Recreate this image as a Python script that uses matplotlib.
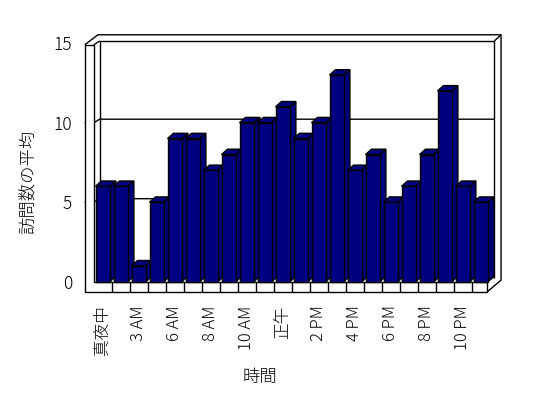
import matplotlib
matplotlib.use("Agg")
import matplotlib.pyplot as plt
from matplotlib.patches import Polygon, Rectangle

plt.rcParams['font.family'] = ['Noto Sans CJK JP', 'DejaVu Sans']

hours = ['真夜中', '2 AM', '3 AM', '5 AM', '6 AM', '7 AM', '8 AM', '9 AM', '10 AM', '11 AM',
         '正午', '1 PM', '2 PM', '3 PM', '4 PM', '5 PM', '6 PM', '7 PM', '8 PM', '9 PM',
         '10 PM', '11 PM']
visits = [6, 6, 1, 5, 9, 9, 7, 8, 10, 10, 11, 9, 10, 13, 7, 8, 5, 6, 8, 12, 6, 5]
yticks = [0, 5, 10, 15]

navy = '#000080'
W = 548.0
H = 398.0

fig = plt.figure(figsize=(W / 100, H / 100), dpi=100)
ax = fig.add_axes([93.7 / W, (H - 281.7) / H, 396 / W, 15 * 15.9 / H])
n = len(visits)
ax.set_xlim(-0.5, n - 0.5)
ax.set_ylim(0, 15)
for s in ax.spines.values():
    s.set_visible(False)

# 3d look offsets (data units)
ddx, ddy = 6 / 18.0, 5.3 / 15.9
gb = 0.22          # back wall shift for gridlines
wl = -1.0          # outer edge of left wall
top_f, top_i, top_o = 14.9, 15.14, 15.53
right_i, right_o = n - 0.5 + 0.26, n - 0.5 + 0.63
floor_r, floor_b = n - 0.5 - 0.13, -0.63

def line(xs, ys, z=1):
    ax.plot(xs, ys, color='black', lw=1, clip_on=False, zorder=z, solid_capstyle='butt')

# back wall
line([-0.5 + ddx, -0.5 + ddx, right_i, right_i], [gb, top_i, top_i, gb])
line([-0.5, -0.5 + ddx], [top_f, top_i])
line([wl, -0.26, right_o, right_o, floor_r], [top_f, top_o, top_o, 0.1, floor_b])
line([right_i, right_o], [top_i, top_o])
line([floor_r, right_i], [0, ddy])

# gridlines on back wall
for v in yticks[1:-1]:
    line([wl, -0.5, -0.5 + ddx, right_i], [v, v, v + gb, v + gb])

# left wall front face and floor front face
ax.add_patch(Polygon([[wl, top_f], [-0.5, top_f], [-0.5, 0], [floor_r, 0],
                      [floor_r, floor_b], [wl, floor_b]], closed=True,
                     fc='white', ec='black', lw=1, clip_on=False, zorder=1))
for k in range(1, n):
    line([k - 0.5, k - 0.5], [0, floor_b])

# bars
bw = 0.4
for i, v in enumerate(visits):
    z = 3 + i
    ax.add_patch(Polygon([[i + bw, 0], [i + bw + ddx, ddy], [i + bw + ddx, v + ddy], [i + bw, v]],
                         closed=True, fc=navy, ec='black', lw=1, zorder=z, clip_on=False))
    ax.add_patch(Polygon([[i - bw, v], [i + bw, v], [i + bw + ddx, v + ddy], [i - bw + ddx, v + ddy]],
                         closed=True, fc=navy, ec='black', lw=1, zorder=z, clip_on=False))
    ax.add_patch(Rectangle((i - bw, 0), 2 * bw, v, fc=navy, ec='black', lw=1, zorder=z, clip_on=False))

ax.set_yticks(yticks)
ax.set_yticklabels([str(t) for t in yticks], fontsize=12.5, fontweight='light')
ax.set_xticks(range(n))
ax.set_xticklabels([h if i % 2 == 0 else '' for i, h in enumerate(hours)], rotation=90,
                   fontsize=12, fontweight='light')
ax.tick_params(axis='y', length=0, pad=15.5)
ax.tick_params(axis='x', length=0, pad=17)

ax.set_ylabel('訪問数の平均', fontsize=12.5, fontweight='light')
ax.yaxis.set_label_coords(-0.163, 0.418)
ax.set_xlabel('時間', fontsize=12.5, fontweight='light')
ax.xaxis.set_label_coords(0.42, -0.40)
ax.xaxis.label.set_va('center')
ax.yaxis.label.set_va('center')

fig.savefig('out.png', dpi=100)
